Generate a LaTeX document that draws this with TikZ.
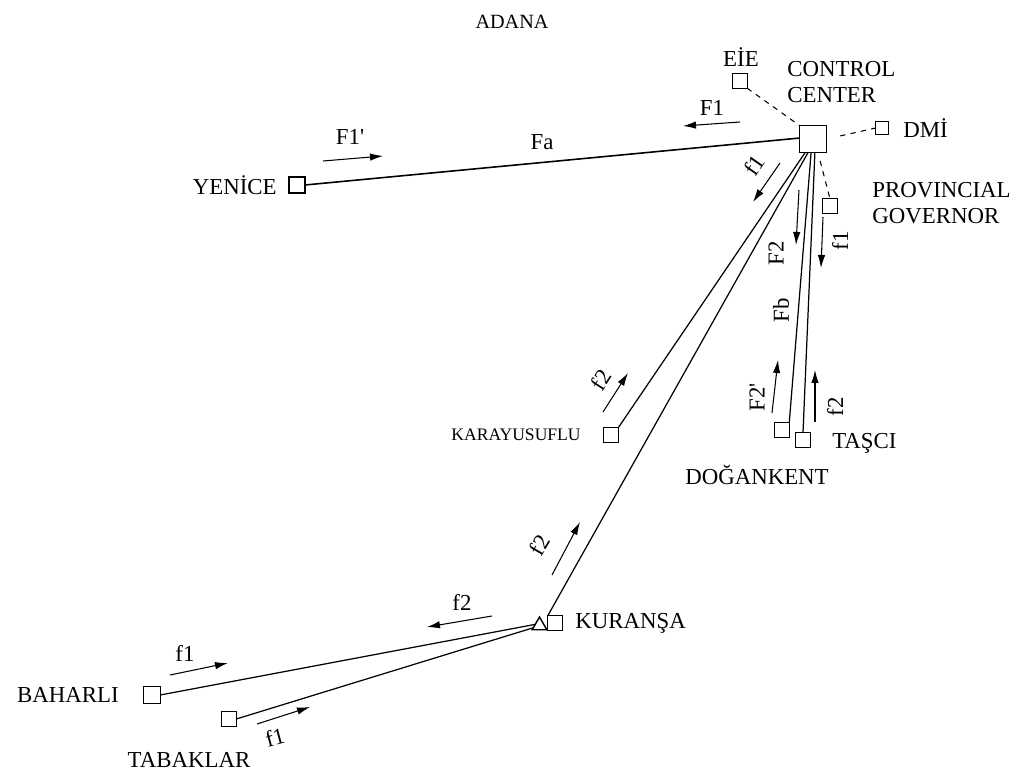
\documentclass[tikz,border=0pt]{standalone}
\usepackage{fontspec}
\setmainfont{Liberation Serif}
\usetikzlibrary{arrows.meta,shapes.geometric}
\begin{document}
\begin{tikzpicture}[x=0.02cm,y=-0.02cm,
 site/.style={draw,line width=0.8pt,minimum size=0.29cm,inner sep=0pt,outer sep=0pt},
 lbl/.style={font=\fontsize{13}{15}\selectfont,inner sep=0pt},
 smalllbl/.style={font=\fontsize{10}{12}\selectfont,inner sep=0pt},
 link/.style={line width=0.7pt},
 aux/.style={line width=0.6pt,dash pattern=on 3pt off 3pt},
 flow/.style={line width=0.6pt,-{Latex[length=2.6mm,width=1.5mm]}}]
\useasboundingbox (0,0) rectangle (1022,784);

% sites
\node[site,minimum size=0.54cm] (cc) at (813,139) {};
\node[site] (eie) at (740,81) {};
\node[site,minimum size=0.25cm] (dmi) at (882,128) {};
\node[site] (pg) at (830,206) {};
\node[site,minimum size=0.32cm] (yen) at (297,185) {};
\node[site] (kar) at (611,435) {};
\node[site] (dog) at (782,430) {};
\node[site] (tas) at (803,440) {};
\node[site] (kur) at (555,623) {};
\node[draw,line width=0.8pt,regular polygon,regular polygon sides=3,minimum size=0.34cm,inner sep=0pt,outer sep=0pt] (tri) at (539.5,625.5) {};
\node[site,minimum size=0.33cm] (bah) at (152,695) {};
\node[site] (tab) at (229,719) {};

% labels
\node[lbl,font=\fontsize{11.5}{13}\selectfont] (adana) at (512,22) {ADANA};
\node[lbl] (eiel) at (741,57) {EİE};
\node[lbl,align=left,anchor=west] (ccl) at (787,82) {CONTROL\\CENTER};
\node[lbl,anchor=west] (dmil) at (903,128) {DMİ};
\node[lbl,align=left,anchor=west] (pgl) at (872,203) {PROVINCIAL\\GOVERNOR};
\node[lbl,anchor=east] (yenl) at (277,185) {YENİCE};
\node[smalllbl,anchor=east] (karl) at (581,435) {KARAYUSUFLU};
\node[lbl,anchor=west] (tasl) at (832,443) {TAŞCI};
\node[lbl] (dogl) at (757,475) {DOĞANKENT};
\node[lbl,anchor=west] (kurl) at (575,623) {KURANŞA};
\node[lbl,anchor=east] (bahl) at (119,695) {BAHARLI};
\node[lbl] (tabl) at (189,760) {TABAKLAR};

% links
\draw[link,line width=0.9pt] (yen.east) -- (cc.176);
\draw[link] (kar.north east) -- (cc.-120);
\draw[link] (kur.north west) -- (cc.-110);
\draw[link] (dog.north east) -- (cc.-98);
\draw[link] (tas.north) -- (cc.-82);
\draw[link] (bah.east) -- (tri.165);
\draw[link] (tab.east) -- (tri.200);
\draw[aux] (eie.south east) -- (cc.north west);
\draw[aux,shorten <=8pt] (cc.east) -- (dmi.west);
\draw[aux,shorten <=5pt] (cc.-70) -- (pg.north);

% flow arrows
\coordinate (a1s) at (740,122); \coordinate (a1e) at (683,126);
\draw[flow] (a1s) -- (a1e);
\node[lbl] (F1) at (712,108) {F1};
\coordinate (a2s) at (323,161); \coordinate (a2e) at (383,156);
\draw[flow] (a2s) -- (a2e);
\node[lbl] (F1p) at (350,137) {F1\textquotesingle};
\node[lbl] (Fa) at (542,142) {Fa};
\coordinate (a3s) at (780,163); \coordinate (a3e) at (753,202);
\draw[flow] (a3s) -- (a3e);
\node[lbl,rotate=55] (f1a) at (754,165) {f1};
\coordinate (a4s) at (799,190); \coordinate (a4e) at (796,245);
\draw[flow] (a4s) -- (a4e);
\node[lbl,rotate=90] (F2) at (776,253) {F2};
\coordinate (a5s) at (823,217); \coordinate (a5e) at (821,268);
\draw[flow] (a5s) -- (a5e);
\node[lbl,rotate=90] (f1b) at (840,241) {f1};
\node[lbl,rotate=90] (Fb) at (781,310) {Fb};
\coordinate (a6s) at (772,413); \coordinate (a6e) at (778,360);
\draw[flow] (a6s) -- (a6e);
\node[lbl,rotate=90] (F2p) at (757,397) {F2\textquotesingle};
\coordinate (a7s) at (815,422); \coordinate (a7e) at (815,370);
\draw[flow] (a7s) -- (a7e);
\node[lbl,rotate=90] (f2a) at (835,407) {f2};
\coordinate (a8s) at (603,412); \coordinate (a8e) at (628,373);
\draw[flow] (a8s) -- (a8e);
\node[lbl,rotate=57] (f2b) at (601,380) {f2};
\coordinate (a9s) at (552,575); \coordinate (a9e) at (580,522);
\draw[flow] (a9s) -- (a9e);
\node[lbl,rotate=60] (f2c) at (539,545) {f2};
\coordinate (a10s) at (492,616); \coordinate (a10e) at (427,627);
\draw[flow] (a10s) -- (a10e);
\node[lbl] (f2d) at (462,602) {f2};
\coordinate (a11s) at (170,675); \coordinate (a11e) at (228,663);
\draw[flow] (a11s) -- (a11e);
\node[lbl] (f1c) at (185,653) {f1};
\coordinate (a12s) at (257,724); \coordinate (a12e) at (310,707);
\draw[flow] (a12s) -- (a12e);
\node[lbl,rotate=15] (f1d) at (275,737) {f1};
\end{tikzpicture}
\end{document}
